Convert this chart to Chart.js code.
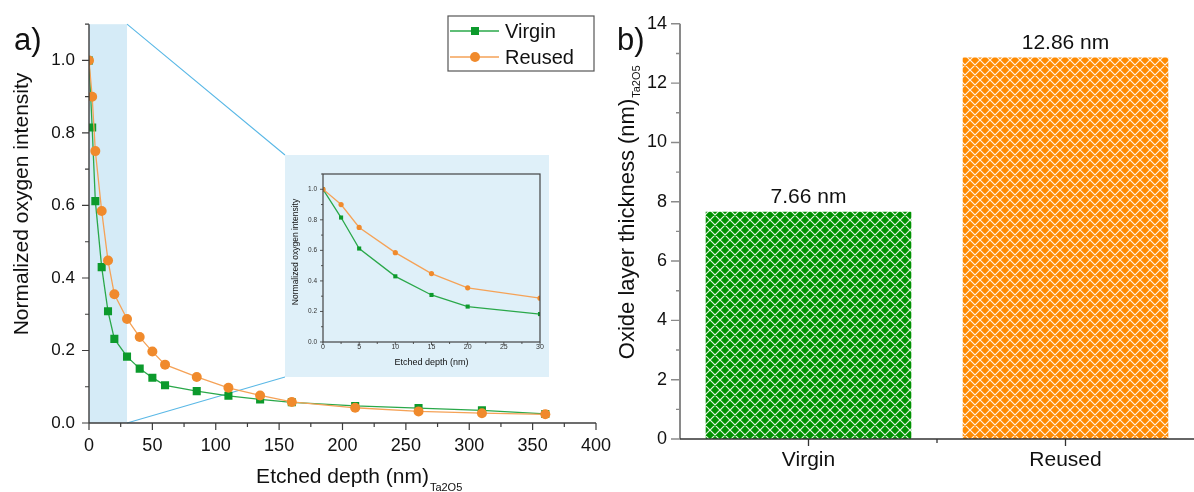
<!DOCTYPE html>
<html>
<head>
<meta charset="utf-8">
<script src="https://cdn.jsdelivr.net/npm/chart.js@4.4.1/dist/chart.umd.min.js"></script>
<style>
  html, body { margin: 0; padding: 0; background: #fff; }
  #wrap { position: relative; width: 1194px; height: 492px; overflow: hidden; }
  #profileCanvas { position: absolute; left: 0; top: 0; }
  #thicknessCanvas { position: absolute; left: 600px; top: 0; }
  #insetWrap { position: absolute; left: 285px; top: 155px; width: 264px; height: 222px; background: #dff0f9; }
  #insetCanvas { position: absolute; left: 0; top: 0; }
</style>
</head>
<body>
<div id="wrap">
  <canvas id="profileCanvas" width="625" height="492"></canvas>
  <div id="insetWrap"><canvas id="insetCanvas" width="264" height="222"></canvas></div>
  <canvas id="thicknessCanvas" width="594" height="492"></canvas>
</div>
<script>
// ---- depth profile (panel a) ----
const depthNm = [0, 2.5, 5, 10, 15, 20, 30, 40, 50, 60, 85, 110, 135, 160, 210, 260, 310, 360];
const virginIntensity = [1.0, 0.815, 0.612, 0.43, 0.308, 0.232, 0.183, 0.150, 0.125, 0.104, 0.088, 0.075, 0.065, 0.057, 0.047, 0.041, 0.035, 0.025];
const reusedIntensity = [1.0, 0.90, 0.75, 0.585, 0.448, 0.355, 0.287, 0.237, 0.197, 0.161, 0.127, 0.097, 0.076, 0.058, 0.042, 0.032, 0.027, 0.024];
const zoomDepthMax = 30;

const depthTicks = [0, 50, 100, 150, 200, 250, 300, 350, 400];
const intensityTicks = [0, 0.2, 0.4, 0.6, 0.8, 1.0];
const zoomDepthTicks = [0, 5, 10, 15, 20, 25, 30];

// ---- oxide thickness (panel b) ----
const samples = ['Virgin', 'Reused'];
const thicknessNm = [7.66, 12.86];
const thicknessTicks = [0, 2, 4, 6, 8, 10, 12, 14];

const FAMILY = '"Liberation Sans", Arial, Helvetica, sans-serif';
Chart.defaults.font.family = FAMILY;
Chart.defaults.color = '#111';
Chart.defaults.animation = false;

const GREEN_MARK = '#0c9a2c';
const GREEN_LINE = '#2aa84a';
const ORANGE_MARK = '#f08a2c';
const ORANGE_LINE = '#f5a257';

function pairs(xs, ys, limit) {
  const out = [];
  xs.forEach((x, i) => { if (limit === undefined || x <= limit) out.push({ x: x, y: ys[i] }); });
  return out;
}

// minor positions halfway between major ticks, up to the axis end
function minorValues(ticks, max) {
  const step = ticks[1] - ticks[0];
  const out = [];
  for (let v = ticks[0] + step / 2; v <= max + 1e-9; v += step) out.push(v);
  return out;
}

function drawTicks(ctx, scale, values, len, color, width) {
  ctx.save();
  ctx.strokeStyle = color;
  ctx.lineWidth = width;
  ctx.beginPath();
  values.forEach(v => {
    const p = scale.getPixelForValue(v);
    if (scale.isHorizontal()) { ctx.moveTo(p, scale.top); ctx.lineTo(p, scale.top + len); }
    else { ctx.moveTo(scale.right, p); ctx.lineTo(scale.right - len, p); }
  });
  ctx.stroke();
  ctx.restore();
}

function drawAxisLine(ctx, area, which, color, width) {
  ctx.save();
  ctx.strokeStyle = color;
  ctx.lineWidth = width;
  ctx.beginPath();
  if (which === 'left') { ctx.moveTo(area.left, area.top); ctx.lineTo(area.left, area.bottom); }
  else { ctx.moveTo(area.left, area.bottom); ctx.lineTo(area.right, area.bottom); }
  ctx.stroke();
  ctx.restore();
}

// text with a trailing subscript; (cx, cy) is the baseline centre of the main text
function drawTitle(ctx, text, sub, cx, cy, size, subSize, subDrop, rotate) {
  ctx.save();
  ctx.translate(cx, cy);
  if (rotate) ctx.rotate(-Math.PI / 2);
  ctx.fillStyle = '#111';
  ctx.textBaseline = 'alphabetic';
  ctx.textAlign = 'left';
  ctx.font = size + 'px ' + FAMILY;
  const w = ctx.measureText(text).width;
  ctx.fillText(text, -w / 2, 0);
  if (sub) {
    ctx.font = subSize + 'px ' + FAMILY;
    ctx.fillText(sub, w / 2 + 1, subDrop);
  }
  ctx.restore();
}

// ---------------- panel a ----------------
const profileDecor = {
  id: 'profileDecor',
  beforeDatasetsDraw(chart) {
    const { ctx, scales: { x, y } } = chart;
    const x0 = x.getPixelForValue(0);
    const x1 = x.getPixelForValue(zoomDepthMax);
    const yT = y.getPixelForValue(y.max);
    const yB = y.getPixelForValue(0);
    ctx.save();
    ctx.fillStyle = '#d5ebf7';
    ctx.fillRect(x0, yT, x1 - x0, yB - yT);
    const box = document.getElementById('insetWrap');
    const bx = box.offsetLeft;
    const bTop = box.offsetTop;
    const bBot = box.offsetTop + box.offsetHeight;
    ctx.strokeStyle = '#5ab8e6';
    ctx.lineWidth = 1.1;
    ctx.beginPath();
    ctx.moveTo(x1, yT); ctx.lineTo(bx, bTop);
    ctx.moveTo(x1, yB); ctx.lineTo(bx, bBot);
    ctx.stroke();
    ctx.restore();
  },
  afterDraw(chart) {
    const { ctx, chartArea, scales: { x, y } } = chart;
    drawAxisLine(ctx, chartArea, 'left', '#3c3c3c', 1.4);
    drawAxisLine(ctx, chartArea, 'bottom', '#3c3c3c', 1.4);
    drawTicks(ctx, y, intensityTicks, 7, '#3c3c3c', 1.2);
    drawTicks(ctx, y, minorValues(intensityTicks, y.max), 4, '#3c3c3c', 1.2);
    drawTicks(ctx, x, depthTicks, 7, '#3c3c3c', 1.2);
    drawTicks(ctx, x, minorValues(depthTicks, x.max), 4, '#3c3c3c', 1.2);

    drawTitle(ctx, 'Etched depth (nm)', 'Ta2O5', (chartArea.left + chartArea.right) / 2, 483, 21, 11, 8, false);
    drawTitle(ctx, 'Normalized oxygen intensity', null, 28, 204, 21, 0, 0, true);

    ctx.save();
    ctx.fillStyle = '#111';
    ctx.font = '31px ' + FAMILY;
    ctx.textBaseline = 'alphabetic';
    ctx.fillText('a)', 14, 50);
    ctx.restore();

    // legend
    const lx = 448, ly = 16, lw = 146, lh = 55;
    ctx.save();
    ctx.fillStyle = '#fff';
    ctx.fillRect(lx, ly, lw, lh);
    ctx.strokeStyle = '#555';
    ctx.lineWidth = 1.2;
    ctx.strokeRect(lx, ly, lw, lh);
    const rows = [
      { label: 'Virgin', line: GREEN_LINE, mark: GREEN_MARK, shape: 'rect', cy: 31 },
      { label: 'Reused', line: ORANGE_LINE, mark: ORANGE_MARK, shape: 'circle', cy: 57 }
    ];
    rows.forEach(r => {
      ctx.strokeStyle = r.line;
      ctx.lineWidth = 1.3;
      ctx.beginPath(); ctx.moveTo(450, r.cy); ctx.lineTo(499, r.cy); ctx.stroke();
      ctx.fillStyle = r.mark;
      if (r.shape === 'rect') ctx.fillRect(471, r.cy - 4, 8, 8);
      else { ctx.beginPath(); ctx.arc(475, r.cy, 5, 0, Math.PI * 2); ctx.fill(); }
      ctx.fillStyle = '#111';
      ctx.font = '20px ' + FAMILY;
      ctx.textBaseline = 'middle';
      ctx.fillText(r.label, 505, r.cy + 1);
    });
    ctx.restore();
  }
};

new Chart(document.getElementById('profileCanvas'), {
  type: 'line',
  data: {
    datasets: [
      {
        label: 'Virgin', data: pairs(depthNm, virginIntensity), order: 1,
        borderColor: GREEN_LINE, borderWidth: 1.3, backgroundColor: GREEN_MARK,
        pointStyle: 'rect', pointRadius: 5.7, pointBorderWidth: 0, pointBackgroundColor: GREEN_MARK,
        tension: 0
      },
      {
        label: 'Reused', data: pairs(depthNm, reusedIntensity), order: 0,
        borderColor: ORANGE_LINE, borderWidth: 1.3, backgroundColor: ORANGE_MARK,
        pointStyle: 'circle', pointRadius: 5, pointBorderWidth: 0, pointBackgroundColor: ORANGE_MARK,
        tension: 0
      }
    ]
  },
  options: {
    responsive: false,
    devicePixelRatio: 1,
    layout: { padding: { top: 15, right: 29, left: 0, bottom: 0 } },
    plugins: { legend: { display: false }, tooltip: { enabled: false } },
    scales: {
      x: {
        type: 'linear', min: 0, max: 400,
        grid: { display: false, drawTicks: false }, border: { display: false },
        ticks: { font: { size: 18 }, padding: 12, color: '#111', maxRotation: 0 },
        afterBuildTicks(s) { s.ticks = depthTicks.map(v => ({ value: v })); },
        afterFit(s) { s.height = 69; s.paddingLeft = 0; s.paddingRight = 0; }
      },
      y: {
        type: 'linear', min: 0, max: 1.1,
        grid: { display: false, drawTicks: false }, border: { display: false },
        ticks: { font: { size: 17 }, padding: 14, color: '#111', callback: v => Number(v).toFixed(1) },
        afterBuildTicks(s) { s.ticks = intensityTicks.map(v => ({ value: v })); },
        afterFit(s) { s.width = 89; }
      }
    }
  },
  plugins: [profileDecor]
});

// ---------------- zoomed inset ----------------
const insetDecor = {
  id: 'insetDecor',
  afterDraw(chart) {
    const { ctx, chartArea, scales: { x, y } } = chart;
    ctx.save();
    ctx.strokeStyle = '#444';
    ctx.lineWidth = 1.2;
    ctx.strokeRect(chartArea.left, chartArea.top, chartArea.right - chartArea.left, chartArea.bottom - chartArea.top);
    ctx.restore();
    drawTicks(ctx, y, intensityTicks, 3, '#444', 0.9);
    drawTicks(ctx, y, minorValues(intensityTicks, y.max), 2, '#444', 0.9);
    drawTicks(ctx, x, zoomDepthTicks, 3, '#444', 0.9);
    drawTicks(ctx, x, minorValues(zoomDepthTicks, x.max), 2, '#444', 0.9);
    drawTitle(ctx, 'Etched depth (nm)', null, (chartArea.left + chartArea.right) / 2, 210, 9, 0, 0, false);
    drawTitle(ctx, 'Normalized oxygen intensity', null, 13, 97, 8.5, 0, 0, true);
  }
};

new Chart(document.getElementById('insetCanvas'), {
  type: 'line',
  data: {
    datasets: [
      {
        label: 'Virgin', data: pairs(depthNm, virginIntensity, zoomDepthMax), order: 1,
        borderColor: GREEN_LINE, borderWidth: 1.3,
        pointStyle: 'rect', pointRadius: 2.9, pointBorderWidth: 0, pointBackgroundColor: GREEN_MARK
      },
      {
        label: 'Reused', data: pairs(depthNm, reusedIntensity, zoomDepthMax), order: 0,
        borderColor: ORANGE_LINE, borderWidth: 1.3,
        pointStyle: 'circle', pointRadius: 2.6, pointBorderWidth: 0, pointBackgroundColor: ORANGE_MARK
      }
    ]
  },
  options: {
    responsive: false,
    devicePixelRatio: 1,
    layout: { padding: { top: 19, right: 9, left: 0, bottom: 0 } },
    plugins: { legend: { display: false }, tooltip: { enabled: false } },
    scales: {
      x: {
        type: 'linear', min: 0, max: zoomDepthMax,
        grid: { display: false, drawTicks: false }, border: { display: false },
        ticks: { font: { size: 7 }, padding: 1, color: '#333', maxRotation: 0 },
        afterBuildTicks(s) { s.ticks = zoomDepthTicks.map(v => ({ value: v })); },
        afterFit(s) { s.height = 35; s.paddingLeft = 0; s.paddingRight = 0; }
      },
      y: {
        type: 'linear', min: 0, max: 1.1,
        grid: { display: false, drawTicks: false }, border: { display: false },
        ticks: { font: { size: 6.5 }, padding: 6, color: '#333', callback: v => Number(v).toFixed(1) },
        afterBuildTicks(s) { s.ticks = intensityTicks.map(v => ({ value: v })); },
        afterFit(s) { s.width = 38; }
      }
    }
  },
  plugins: [insetDecor]
});

// ---------------- panel b ----------------
function crossHatch(color) {
  const t = document.createElement('canvas');
  t.width = 10; t.height = 10;
  const g = t.getContext('2d');
  g.fillStyle = color;
  g.fillRect(0, 0, 10, 10);
  g.strokeStyle = 'rgba(255,255,255,0.88)';
  g.lineWidth = 1.2;
  g.beginPath();
  [-10, 0, 10].forEach(d => {
    g.moveTo(d, 0); g.lineTo(d + 10, 10);
    g.moveTo(d + 10, 0); g.lineTo(d, 10);
  });
  g.stroke();
  return document.getElementById('thicknessCanvas').getContext('2d').createPattern(t, 'repeat');
}

const thicknessDecor = {
  id: 'thicknessDecor',
  afterDatasetsDraw(chart) {
    const { ctx } = chart;
    const meta = chart.getDatasetMeta(0);
    ctx.save();
    ctx.fillStyle = '#111';
    ctx.font = '21px ' + FAMILY;
    ctx.textAlign = 'center';
    ctx.textBaseline = 'alphabetic';
    meta.data.forEach((bar, i) => {
      ctx.fillText(thicknessNm[i].toFixed(2) + ' nm', bar.x, bar.y - 8.5);
    });
    ctx.restore();
  },
  afterDraw(chart) {
    const { ctx, chartArea, scales: { x, y } } = chart;
    drawAxisLine(ctx, chartArea, 'left', '#8a8a8a', 2);
    drawAxisLine(ctx, chartArea, 'bottom', '#333', 1.5);
    drawTicks(ctx, y, thicknessTicks, 9, '#8a8a8a', 1.4);
    drawTicks(ctx, y, minorValues(thicknessTicks, y.max), 4, '#8a8a8a', 1.4);
    const centers = samples.map((_, i) => i);
    drawTicks(ctx, x, centers, 7, '#333', 1.3);
    drawTicks(ctx, x, centers.slice(1).map(i => i - 0.5), 4, '#333', 1.3);
    drawTitle(ctx, 'Oxide layer thickness (nm)', 'Ta2O5', 34, 229, 22, 11, 6, true);
    ctx.save();
    ctx.fillStyle = '#111';
    ctx.font = '31px ' + FAMILY;
    ctx.textBaseline = 'alphabetic';
    ctx.fillText('b)', 17, 50);
    ctx.restore();
  }
};

new Chart(document.getElementById('thicknessCanvas'), {
  type: 'bar',
  data: {
    labels: samples,
    datasets: [{
      label: 'Oxide layer thickness',
      data: thicknessNm,
      backgroundColor: [crossHatch('#009200'), crossHatch('#ff8a00')],
      borderWidth: 0,
      barPercentage: 0.8,
      categoryPercentage: 1.0
    }]
  },
  options: {
    responsive: false,
    devicePixelRatio: 1,
    layout: { padding: { top: 19, right: 0, left: 0, bottom: 0 } },
    plugins: { legend: { display: false }, tooltip: { enabled: false } },
    scales: {
      x: {
        grid: { display: false, drawTicks: false }, border: { display: false },
        ticks: { font: { size: 21 }, padding: 9, color: '#111', maxRotation: 0 },
        afterFit(s) { s.height = 53; s.paddingLeft = 0; s.paddingRight = 0; }
      },
      y: {
        type: 'linear', min: 0, max: 14,
        grid: { display: false, drawTicks: false }, border: { display: false },
        ticks: { font: { size: 18 }, padding: 13, color: '#111' },
        afterBuildTicks(s) { s.ticks = thicknessTicks.map(v => ({ value: v })); },
        afterFit(s) { s.width = 80; }
      }
    }
  },
  plugins: [thicknessDecor]
});
</script>
</body>
</html>
